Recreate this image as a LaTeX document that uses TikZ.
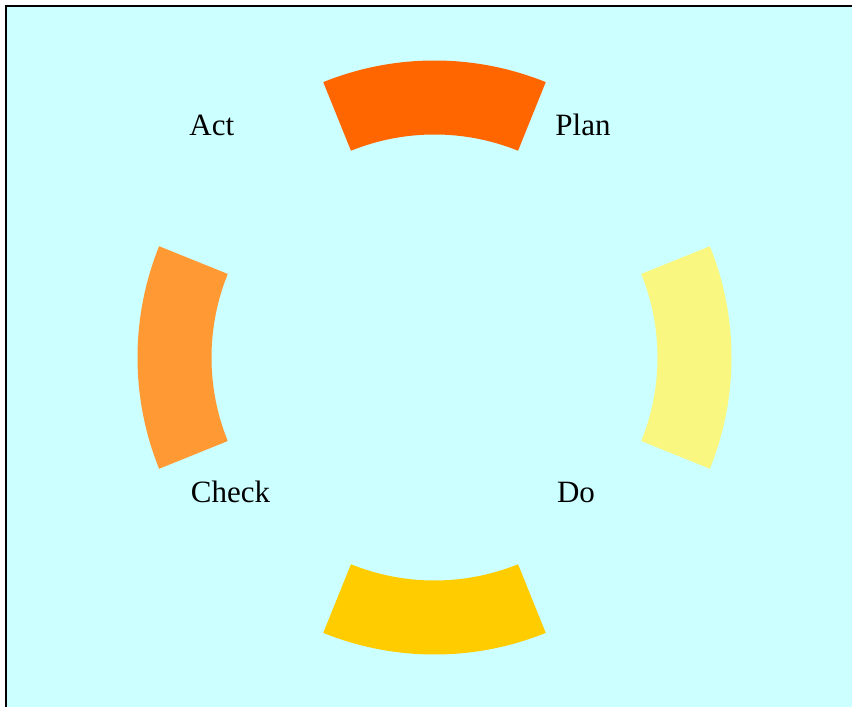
\documentclass[tikz,border=0pt]{standalone}
\usepackage{fontspec}
\setmainfont{Liberation Serif}
\definecolor{bgcyan}{HTML}{CCFFFF}
\definecolor{topfill}{HTML}{FF6600}
\definecolor{rightfill}{HTML}{F9F77F}
\definecolor{bottomfill}{HTML}{FFCC00}
\definecolor{leftfill}{HTML}{FF9933}
\begin{document}
\begin{tikzpicture}[
    x=0.75pt,y=0.75pt,
    frame/.style={line width=1.5pt, draw=black},
    stage/.style={
        font=\fontsize{23.25}{28}\selectfont,
        anchor=base,
        inner sep=0pt
    }
]
    \useasboundingbox (0,0) rectangle (852,707);
    \fill[bgcyan] (6,0) rectangle (852,701);
    \draw[frame] (6,0) -- (6,701) -- (852,701);

    % four ring segments
    \begin{scope}[shift={(434.5,349.5)}]
        \foreach \ang/\col in {90/topfill, 0/rightfill, 270/bottomfill, 180/leftfill}
            \fill[\col] ({\ang-22}:297) arc[start angle=\ang-22, end angle=\ang+22, radius=297]
                -- ({\ang+22}:223) arc[start angle=\ang+22, end angle=\ang-22, radius=223] -- cycle;
    \end{scope}

    \node[stage] (act) at (211.8,571) {Act};
    \node[stage] (plan) at (583,571) {Plan};
    \node[stage] (check) at (230.5,205) {Check};
    \node[stage] (do) at (576,205) {Do};
\end{tikzpicture}
\end{document}
